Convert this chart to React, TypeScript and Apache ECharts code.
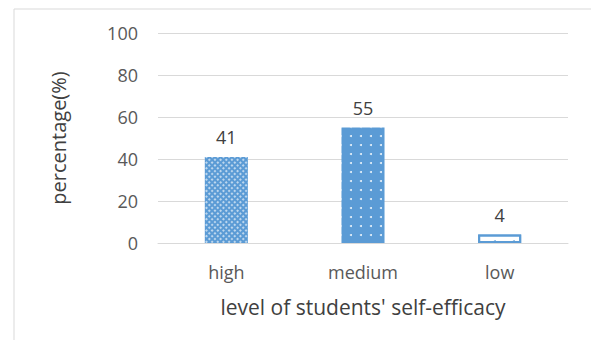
import React, { useEffect, useRef } from "react";
import * as echarts from "echarts";

const categories = ["high", "medium", "low"];
const percentages = [41, 55, 4];
const yTicks = [0, 20, 40, 60, 80, 100];
const yAxisTitle = "percentage(%)";
const xAxisTitle = "level of students' self-efficacy";

const BLUE = "#5b9bd5";
const FONT = "'Open Sans', sans-serif";
const TEXT = "#595959";

export default function App() {
  const ref = useRef<HTMLDivElement>(null);
  useEffect(() => {
    if (!ref.current) return;
    const chart = echarts.init(ref.current, null, { renderer: "svg" });
    const styles = [
      {
        color: BLUE,
        decal: {
          symbol: "rect",
          symbolSize: 1,
          color: "rgba(255,255,255,0.6)",
          dashArrayX: [1.5, 1.5],
          dashArrayY: [1.5, 1.5],
          rotation: Math.PI / 4,
        },
      },
      {
        color: BLUE,
        decal: {
          symbol: "circle",
          symbolSize: 1,
          color: "rgba(255,255,255,0.85)",
          dashArrayX: [2, 8],
          dashArrayY: [2, 7],
        },
      },
      {
        color: "#ffffff",
        borderColor: BLUE,
        borderWidth: 2,
        decal: {
          symbol: "circle",
          symbolSize: 1,
          color: "rgba(91,155,213,0.7)",
          backgroundColor: "#ffffff",
          dashArrayX: [2, 17],
          dashArrayY: [2, 8],
        },
      },
    ];
    chart.setOption({
      animation: false,
      aria: { enabled: true, decal: { show: true } },
      textStyle: { fontFamily: FONT },
      graphic: [
        {
          type: "rect",
          shape: { x: 14, y: 9, width: 700, height: 500 },
          style: { fill: "none", stroke: "#d9d9d9", lineWidth: 1 },
          silent: true,
        },
      ],
      grid: { left: 158, right: 23, top: 33, bottom: 97 },
      xAxis: {
        type: "category",
        data: categories,
        axisLine: { lineStyle: { color: "#d9d9d9" } },
        axisTick: { show: false },
        axisLabel: { color: TEXT, fontSize: 18, margin: 20, fontFamily: FONT },
        name: xAxisTitle,
        nameLocation: "middle",
        nameGap: 53,
        nameTextStyle: { color: "#404040", fontSize: 21, fontFamily: FONT, verticalAlign: "top" },
      },
      yAxis: {
        type: "value",
        min: yTicks[0],
        max: yTicks[yTicks.length - 1],
        interval: yTicks[1] - yTicks[0],
        splitLine: { lineStyle: { color: "#d9d9d9" } },
        axisLine: { show: false },
        axisLabel: { color: TEXT, fontSize: 18, margin: 20, fontFamily: FONT },
        name: yAxisTitle,
        nameLocation: "middle",
        nameGap: 90,
        nameTextStyle: { color: "#404040", fontSize: 20, fontFamily: FONT },
      },
      series: [
        {
          type: "bar",
          barWidth: "31.5%",
          data: percentages.map((v, i) => ({ value: v, itemStyle: styles[i] })),
          label: {
            show: true,
            position: "top",
            distance: 11,
            color: "#404040",
            fontSize: 18,
            fontFamily: FONT,
          },
        },
      ],
    });
    return () => chart.dispose();
  }, []);
  return (
    <div
      ref={ref}
      style={{ position: "fixed", left: 0, top: 0, width: 591, height: 340, background: "#fff" }}
    />
  );
}
